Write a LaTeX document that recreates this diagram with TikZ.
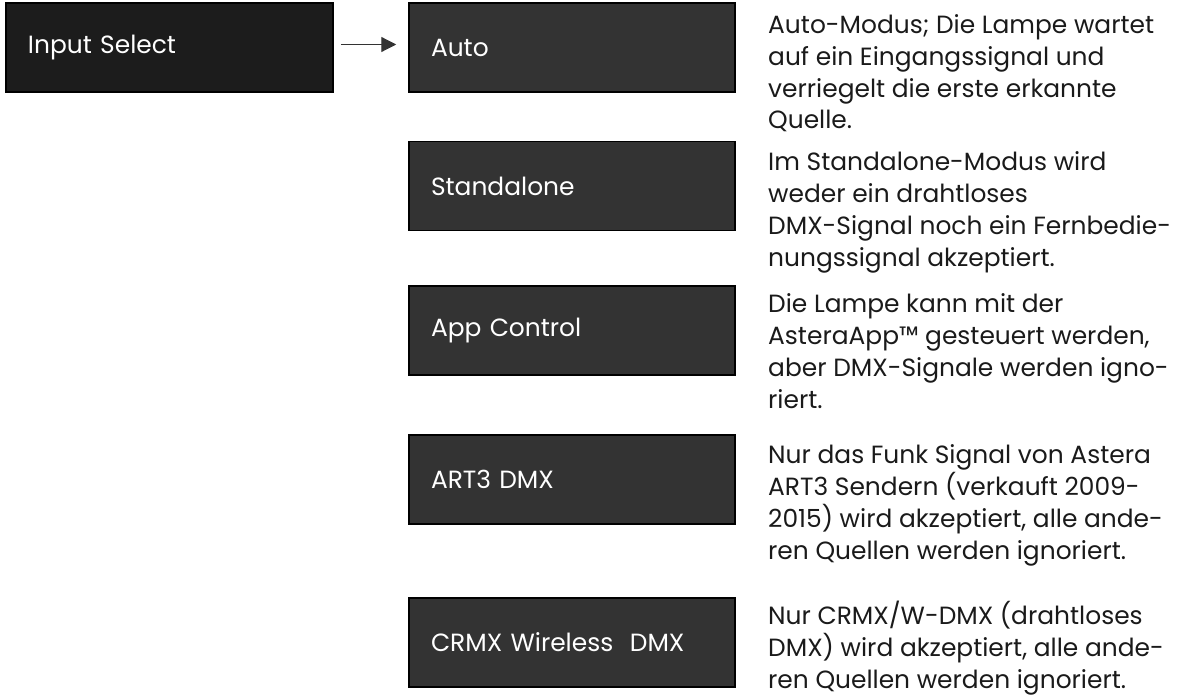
\documentclass[tikz,border=0pt]{standalone}
\usepackage{fontspec}
\setmainfont{Poppins}
\usetikzlibrary{arrows.meta}
\definecolor{boxdark}{HTML}{1C1C1C}
\definecolor{boxgray}{HTML}{333333}
\definecolor{txtdark}{HTML}{1A1A1A}
\tikzset{
  opbox/.style={draw=black, line width=1.5bp, fill=boxgray, text=white,
    minimum width=326bp, minimum height=89bp, text width=282bp, inner xsep=22bp,
    align=left, font=\fontsize{25}{32}\selectfont},
  headbox/.style={opbox, fill=boxdark, minimum width=327bp, text width=283bp},
  desc/.style={anchor=base west, align=left, text=txtdark, inner sep=0pt,
    font=\fontsize{25}{32}\selectfont},
  conn/.style={draw=boxgray, line width=1.2bp, -{Triangle[length=15bp,width=15bp]}}
}
\begin{document}
\begin{tikzpicture}[x=1bp,y=-1bp]
\useasboundingbox (0,0) rectangle (1191,697);
\node[headbox] (inp) at (169.5,47.5) {Input Select};
\node[opbox] (auto) at (572,47.5) {Auto};
\node[opbox] (stand) at (572,186) {Standalone};
\node[opbox] (app) at (572,330.5) {App Control};
\node[opbox] (art) at (572,479.5) {ART3 DMX};
\node[opbox] (crmx) at (572,642.5) {CRMX Wireless\ \ DMX};
\draw[conn, shorten <=7bp, shorten >=12bp] ([yshift=3bp]inp.east) -- ([yshift=3bp]auto.west);
% anchors at the baseline of the last line of each text
\node[desc] (d1) at (768,129) {Auto-Modus; Die Lampe wartet\\auf ein Eingangssignal und\\verriegelt die erste erkannte\\Quelle.};
\node[desc] (d2) at (768,266) {Im Standalone-Modus wird\\weder ein drahtloses\\DMX-Signal noch ein Fernbedie-\\nungssignal akzeptiert.};
\node[desc] (d3) at (768,408) {Die Lampe kann mit der\\AsteraApp™ gesteuert werden,\\aber DMX-Signale werden igno-\\riert.};
\node[desc] (d4) at (768,559) {Nur das Funk Signal von Astera\\ART3 Sendern (verkauft 2009-\\2015) wird akzeptiert, alle ande-\\ren Quellen werden ignoriert.};
\node[desc] (d5) at (768,688) {Nur CRMX/W-DMX (drahtloses\\DMX) wird akzeptiert, alle ande-\\ren Quellen werden ignoriert.};
\end{tikzpicture}
\end{document}
